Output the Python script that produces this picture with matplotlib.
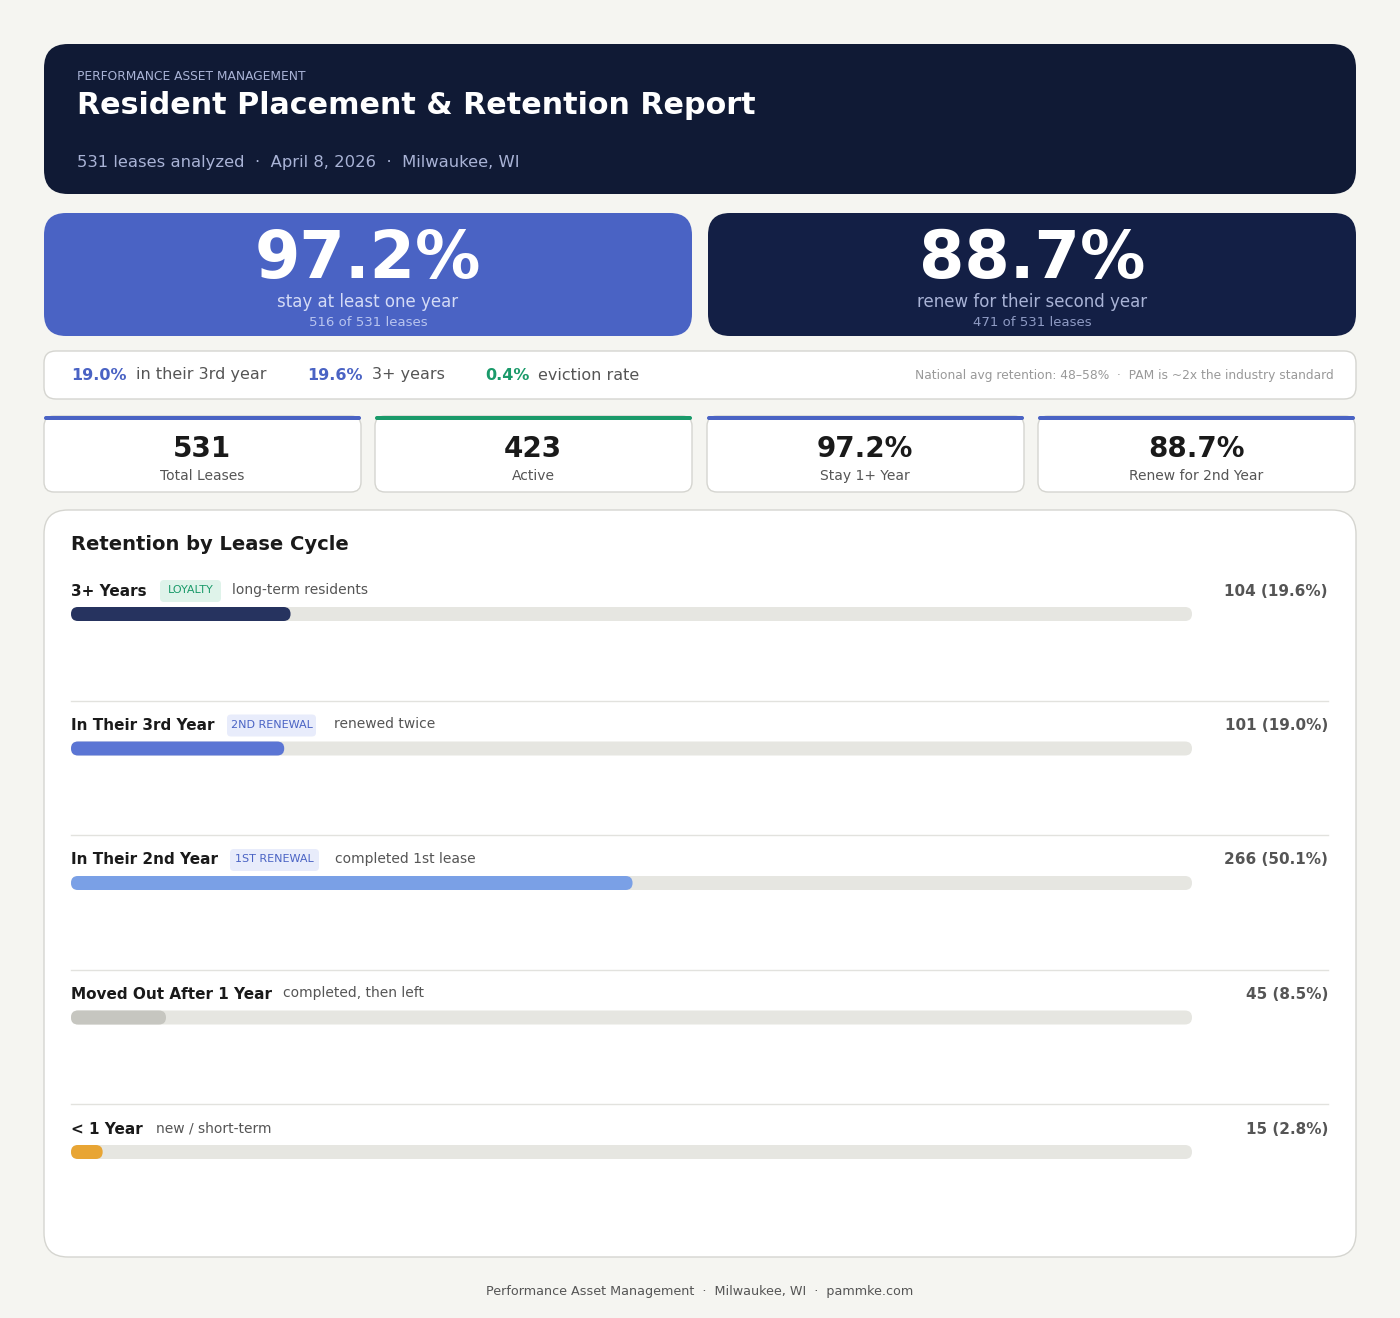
import matplotlib.pyplot as plt
from matplotlib.patches import FancyBboxPatch

plt.rcParams['font.family'] = ['DejaVu Sans']

# data
total_leases = 531
cycle_labels = ['3+ Years', 'In Their 3rd Year', 'In Their 2nd Year', 'Moved Out After 1 Year', '< 1 Year']
cycle_counts = [104, 101, 266, 45, 15]
cycle_pcts = [19.6, 19.0, 50.1, 8.5, 2.8]
cycle_badges = ['LOYALTY', '2ND RENEWAL', '1ST RENEWAL', None, None]
cycle_desc = ['long-term residents', 'renewed twice', 'completed 1st lease', 'completed, then left', 'new / short-term']
cycle_colors = ['#26335f', '#5b75d4', '#7aa0e6', '#c6c6c0', '#e8a534']

kpi_values = ['531', '423', '97.2%', '88.7%']
kpi_labels = ['Total Leases', 'Active', 'Stay 1+ Year', 'Renew for 2nd Year']
kpi_colors = ['#4a63c4', '#1a9a6a', '#4a63c4', '#4a63c4']

W, H = 1400, 1318
fig = plt.figure(figsize=(W / 100, H / 100), dpi=100, facecolor='#f5f5f1')
ax = fig.add_axes([0, 0, 1, 1])
ax.set_xlim(0, W)
ax.set_ylim(H, 0)
ax.axis('off')


def box(x0, y0, x1, y1, fc, r=20, ec='none', lw=1.0):
    ax.add_patch(FancyBboxPatch((x0, y0), x1 - x0, y1 - y0,
                                boxstyle=f'round,pad=0,rounding_size={r}',
                                fc=fc, ec=ec, lw=lw))


# header
box(44, 44, 1356, 194, '#101a35', r=24)
ax.text(77, 76, 'PERFORMANCE ASSET MANAGEMENT', color='#a9b3d6', fontsize=8.8, va='center')
ax.text(77, 106, 'Resident Placement & Retention Report', color='white', fontsize=21.7,
        fontweight='bold', va='center')
ax.text(77, 163, '531 leases analyzed  ·  April 8, 2026  ·  Milwaukee, WI', color='#a9b3d6',
        fontsize=11.8, va='center')

# hero cards
heroes = [(44, 692, '#4a63c4', '97.2%', 'stay at least one year', '516 of 531 leases', '#d4dbf6', '#b9c5ef'),
          (708, 1356, '#131f45', '88.7%', 'renew for their second year', '471 of 531 leases', '#a9b3d6', '#8f9bc4')]
for x0, x1, fc, big, lab, sub, c1, c2 in heroes:
    box(x0, 213, x1, 336, fc, r=22)
    cx = (x0 + x1) / 2
    ax.text(cx, 260, big, color='white', fontsize=47, fontweight='bold', ha='center', va='center')
    ax.text(cx, 302, lab, color=c1, fontsize=12, ha='center', va='center')
    ax.text(cx, 323, sub, color=c2, fontsize=9.5, ha='center', va='center')

# stat strip
box(44, 351, 1356, 399, 'white', r=12, ec='#d5d5d0')
strip = [(71, '19.0%', '#4a63c4', 136, 'in their 3rd year'),
         (307, '19.6%', '#4a63c4', 372, '3+ years'),
         (485, '0.4%', '#1a9a6a', 538, 'eviction rate')]
for x, v, c, x2, t in strip:
    ax.text(x, 375, v, color=c, fontsize=11.5, fontweight='bold', va='center')
    ax.text(x2, 375, t, color='#555555', fontsize=11.5, va='center')
ax.text(1334, 375, 'National avg retention: 48–58%  ·  PAM is ~2x the industry standard',
        color='#999999', fontsize=8.8, ha='right', va='center')

# kpi cards
kx = [44, 375, 707, 1038]
for x0, v, lab, c in zip(kx, kpi_values, kpi_labels, kpi_colors):
    box(x0, 416, x0 + 317, 492, 'white', r=10, ec='#d5d5d0')
    ax.add_patch(FancyBboxPatch((x0, 416), 317, 4, boxstyle='round,pad=0,rounding_size=2',
                                fc=c, ec='none'))
    ax.text(x0 + 158, 449, v, color='#1a1a1a', fontsize=20, fontweight='bold', ha='center', va='center')
    ax.text(x0 + 158, 476, lab, color='#555555', fontsize=10, ha='center', va='center')

# retention panel
box(44, 510, 1356, 1257, 'white', r=24, ec='#d5d5d0')
ax.text(71, 544, 'Retention by Lease Cycle', color='#1a1a1a', fontsize=14, fontweight='bold', va='center')

badge_x = [160, 227, 230, None, None]
desc_x = [232, 334, 335, 283, 156]
track_x0, track_x1 = 71, 1192
row_h = 134.5
for i, (lab, n, p, bd, ds, col) in enumerate(zip(cycle_labels, cycle_counts, cycle_pcts,
                                                  cycle_badges, cycle_desc, cycle_colors)):
    y = 591 + i * row_h
    ax.text(71, y, lab, color='#1a1a1a', fontsize=11, fontweight='bold', va='center')
    if bd:
        green = bd == 'LOYALTY'
        bw = 7.0 * len(bd) + 12
        box(badge_x[i], y - 11, badge_x[i] + bw, y + 11, '#dff3ea' if green else '#e8ecfb', r=4)
        ax.text(badge_x[i] + bw / 2, y - 1, bd, color='#1a9a6a' if green else '#4a63c4',
                fontsize=8, ha='center', va='center')
    ax.text(desc_x[i], y - 1, ds, color='#555555', fontsize=10, va='center')
    ax.text(1328, y, f'{n} ({p:.1f}%)', color='#555555', fontsize=11, fontweight='bold',
            ha='right', va='center')
    by = y + 23
    box(track_x0, by - 7, track_x1, by + 7, '#e6e6e1', r=7)
    bw = (track_x1 - track_x0) * n / total_leases
    box(track_x0, by - 7, track_x0 + bw, by + 7, col, r=7)
    if i < len(cycle_labels) - 1:
        ax.plot([71, 1328], [y + 109.5, y + 109.5], color='#e2e2de', lw=1)

ax.text(700, 1291, 'Performance Asset Management  ·  Milwaukee, WI  ·  pammke.com',
        color='#555555', fontsize=9.2, ha='center', va='center')

fig.savefig('out.png', dpi=100, facecolor=fig.get_facecolor())
